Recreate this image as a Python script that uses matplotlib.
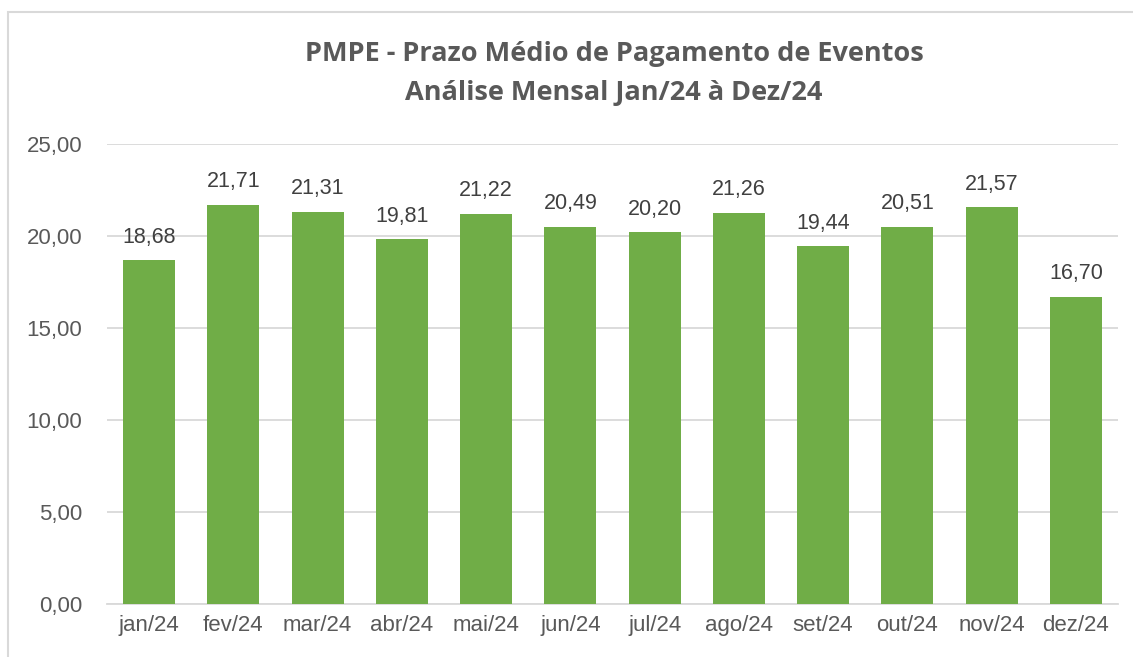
import matplotlib
matplotlib.use('Agg')
import matplotlib.pyplot as plt
from matplotlib.patches import Rectangle

meses = ['jan/24', 'fev/24', 'mar/24', 'abr/24', 'mai/24', 'jun/24',
         'jul/24', 'ago/24', 'set/24', 'out/24', 'nov/24', 'dez/24']
pmpe = [18.68, 21.71, 21.31, 19.81, 21.22, 20.49,
        20.20, 21.26, 19.44, 20.51, 21.57, 16.70]
yticks = [0, 5, 10, 15, 20, 25]

plt.rcParams['font.family'] = ['Liberation Sans', 'DejaVu Sans']

W, H = 1133, 657
fig = plt.figure(figsize=(W / 100, H / 100), dpi=100)
ax = fig.add_axes([107 / W, 1 - 604 / H, (1118 - 107) / W, (604 - 144) / H])

x = range(len(meses))
ax.bar(x, pmpe, width=0.62, color='#70AD47', zorder=3)
for i, v in zip(x, pmpe):
    ax.annotate(f'{v:.2f}'.replace('.', ','), (i, v), xytext=(0, 9),
                textcoords='offset points', ha='center', va='bottom',
                fontsize=15.5, color='#404040')

ax.set_xlim(-0.5, len(meses) - 0.5)
ax.set_ylim(0, 25)
ax.set_yticks(yticks)
ax.set_yticklabels([f'{t:.2f}'.replace('.', ',') for t in yticks])
ax.set_xticks(list(x))
ax.set_xticklabels(meses)
ax.tick_params(length=0, labelsize=16, labelcolor='#595959')
ax.tick_params(axis='y', pad=18)
ax.tick_params(axis='x', pad=8)
ax.grid(axis='y', color='#D9D9D9', linewidth=1.3, zorder=0)
for s in ['top', 'right', 'left']:
    ax.spines[s].set_visible(False)
ax.spines['bottom'].set_color('#D9D9D9')
ax.spines['bottom'].set_linewidth(1.3)

fig.text(614 / W, 1 - 54 / H, 'PMPE - Prazo Médio de Pagamento de Eventos',
         ha='center', va='center', fontsize=19.5, fontweight='bold',
         color='#595959', family=['Open Sans', 'DejaVu Sans'])
fig.text(614 / W, 1 - 93 / H, 'Análise Mensal Jan/24 à Dez/24',
         ha='center', va='center', fontsize=19.5, fontweight='bold',
         color='#595959', family=['Open Sans', 'DejaVu Sans'])

fig.patches.append(Rectangle((8 / W, -0.1), 1.2, 1 - 12 / H + 0.1,
                             transform=fig.transFigure, fill=False,
                             edgecolor='#D9D9D9', linewidth=1.5))

fig.savefig('out.png', dpi=100)
